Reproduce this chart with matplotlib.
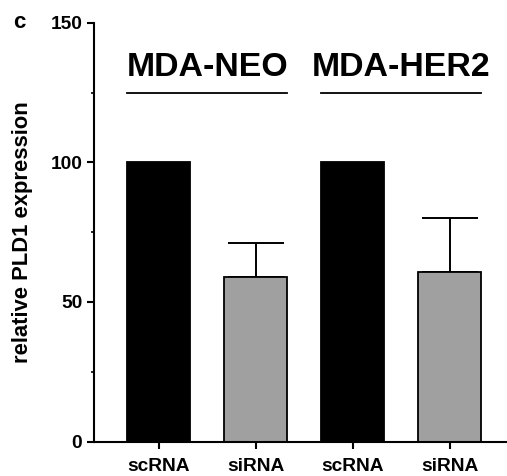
import numpy as np
import matplotlib.pyplot as plt

plt.rcParams['font.family'] = ['Liberation Sans', 'DejaVu Sans']
plt.rcParams['font.weight'] = 'bold'

conditions = ['scRNA', 'siRNA', 'scRNA', 'siRNA']
values = [100, 58.8, 100, 60.6]
errors = [0, 12.2, 0, 19.6]
colors = ['black', '#a0a0a0', 'black', '#a0a0a0']
groups = ['MDA-NEO', 'MDA-HER2']

fig = plt.figure(figsize=(5.07, 4.76), dpi=100)
ax = fig.add_axes([94 / 507, 34.5 / 476, 412 / 507, 418.8 / 476])

x = np.arange(len(conditions))
width = 0.655
ax.bar(x, values, width=width, color=colors, edgecolor='black', linewidth=1.3, zorder=2)

# one-sided error bars on the siRNA bars
for xi, v, e in zip(x, values, errors):
    if e > 0:
        ax.errorbar(xi, v, yerr=[[0], [e]], fmt='none', ecolor='black',
                    elinewidth=1.4, capsize=20.5, capthick=1.4, zorder=1)

# group labels with underlines
for gi, name in enumerate(groups):
    left = x[2 * gi] - width / 2
    right = x[2 * gi + 1] + width / 2
    ax.plot([left, right], [125, 125], color='black', lw=1.3, clip_on=False)
    ax.text((left + right) / 2, 130.8, name, ha='center', va='baseline',
            fontsize=24.4, fontweight='bold')

ax.set_xlim(-0.666, 3.58)
ax.set_ylim(0, 150)
ax.set_yticks([0, 50, 100, 150])
ax.set_yticks([25, 75, 125], minor=True)
ax.set_xticks(x)
ax.set_xticklabels(conditions)
ax.tick_params(axis='both', labelsize=13.8, width=1.5, length=5)
ax.tick_params(axis='y', which='minor', width=1.2, length=2.5)
ax.tick_params(axis='x', pad=7)
for lab in ax.get_xticklabels() + ax.get_yticklabels():
    lab.set_fontweight('bold')

ax.spines['top'].set_visible(False)
ax.spines['right'].set_visible(False)
ax.spines['left'].set_linewidth(1.5)
ax.spines['bottom'].set_linewidth(1.5)

ax.set_ylabel('relative PLD1 expression', fontsize=15.8, fontweight='bold')
ax.yaxis.set_label_coords(-0.147, 0.5)
fig.text(19 / 507, 1 - 22.5 / 476, 'c', fontsize=16, fontweight='bold', ha='center', va='center')

fig.savefig('out.png', dpi=100)
